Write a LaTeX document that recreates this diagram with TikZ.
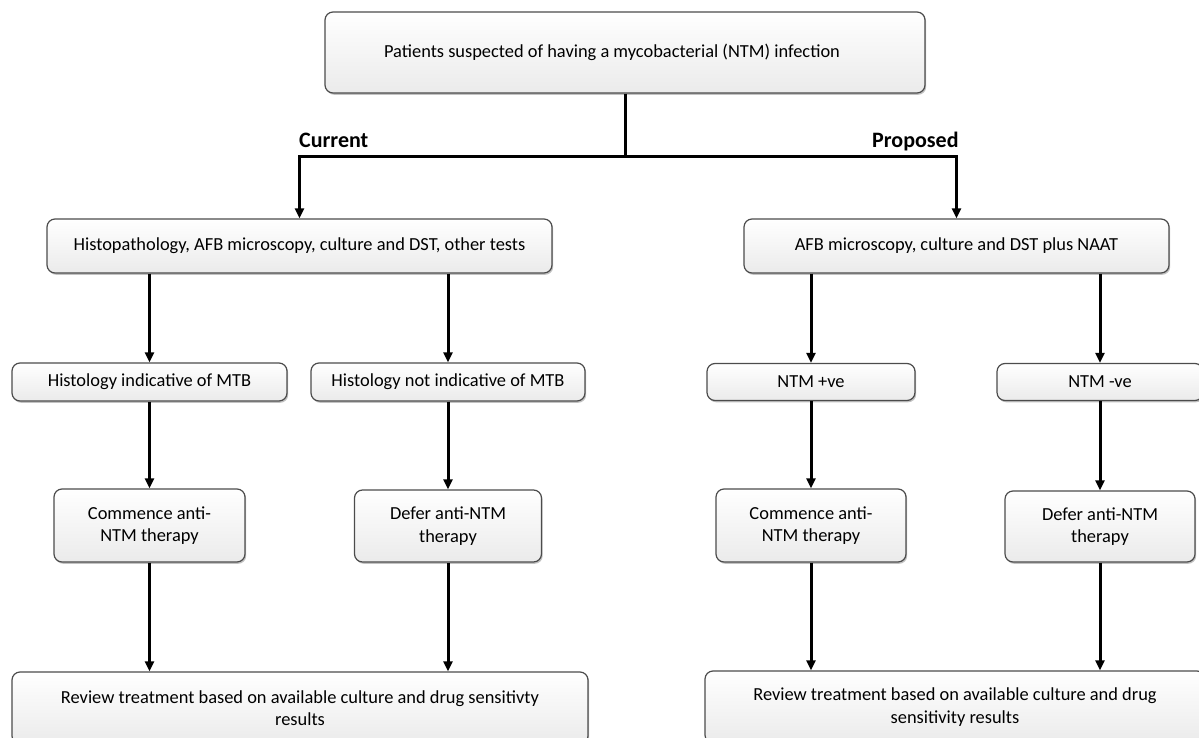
\documentclass[tikz,border=0pt]{standalone}
\usepackage{fontspec}
\setmainfont{Carlito}
\usetikzlibrary{positioning}
\usetikzlibrary{arrows.meta}
\usetikzlibrary{shadows}

\begin{document}
\begin{tikzpicture}[x=1pt,y=-1pt,
    box/.style={draw=black!70, line width=1.2pt, rounded corners=8pt,
        top color=white, bottom color=black!8,
        drop shadow={shadow xshift=1.2pt, shadow yshift=-1.8pt, opacity=0.4, fill=black!60},
        font=\fontsize{18.4}{22.5}\selectfont, align=center, inner sep=0pt},
    flow/.style={line width=3pt, -{Triangle[length=10pt,width=9pt]}},
    trunk/.style={line width=3pt},
    tag/.style={font=\fontsize{22}{26}\selectfont\bfseries, anchor=base west, inner sep=0pt}]

    \useasboundingbox (0,0) rectangle (1199,738);

    \node[box, minimum width=600, minimum height=81] (patients) at (625,52.5)
        {Patients suspected of having a mycobacterial (NTM) infection\hspace*{26pt}};

    \node[tag] (current) at (299,148) {Current};
    \node[tag] (proposed) at (872,148) {Proposed};

    % second row
    \node[box, minimum width=505, minimum height=54] (tests) at (299.5,246)
        {Histopathology, AFB microscopy, culture and DST, other tests};
    \node[box, minimum width=425, minimum height=54] (naat) at (956.5,246)
        {AFB microscopy, culture and DST plus NAAT};

    % third row
    \node[box, minimum width=275, minimum height=38] (histyes) at (149.5,382) {Histology indicative of MTB};
    \node[box, minimum width=274, minimum height=38] (histno) at (448,382) {Histology not indicative of MTB};
    \node[box, minimum width=208, minimum height=37] (ntmpos) at (811,382) {NTM +ve};
    \node[box, minimum width=206, minimum height=37] (ntmneg) at (1100,382) {NTM -ve};

    % fourth row
    \node[box, minimum width=191, minimum height=73] (startl) at (149.5,525.5) {Commence anti-\\NTM therapy};
    \node[box, minimum width=187, minimum height=72] (deferl) at (448,526) {Defer anti-NTM\\therapy};
    \node[box, minimum width=190, minimum height=73] (startr) at (811,525.5) {Commence anti-\\NTM therapy};
    \node[box, minimum width=190, minimum height=71] (deferr) at (1100,526.5) {Defer anti-NTM\\therapy};

    % last row
    \node[box, minimum width=576, minimum height=72] (reviewl) at (300,708)
        {Review treatment based on available culture and drug sensitivty\\results};
    \node[box, minimum width=500, minimum height=72] (reviewr) at (955,707)
        {Review treatment based on available culture and drug\\sensitivity results};

    \coordinate (split) at (625,157);
    \draw[trunk] (patients.south) -- (split);
    \draw[flow] (split) -| (tests.north);
    \draw[flow] (split) -| (naat.north);

    \draw[flow] (histyes.north |- tests.south) -- (histyes.north);
    \draw[flow] (histno.north |- tests.south) -- (histno.north);
    \draw[flow] (ntmpos.north |- naat.south) -- (ntmpos.north);
    \draw[flow] (ntmneg.north |- naat.south) -- (ntmneg.north);

    \draw[flow] (histyes.south) -- (startl.north);
    \draw[flow] (histno.south) -- (deferl.north);
    \draw[flow] (ntmpos.south) -- (startr.north);
    \draw[flow] (ntmneg.south) -- (deferr.north);

    \draw[flow] (startl.south) -- (startl.south |- reviewl.north);
    \draw[flow] (deferl.south) -- (deferl.south |- reviewl.north);
    \draw[flow] (startr.south) -- (startr.south |- reviewr.north);
    \draw[flow] (deferr.south) -- (deferr.south |- reviewr.north);

\end{tikzpicture}
\end{document}
